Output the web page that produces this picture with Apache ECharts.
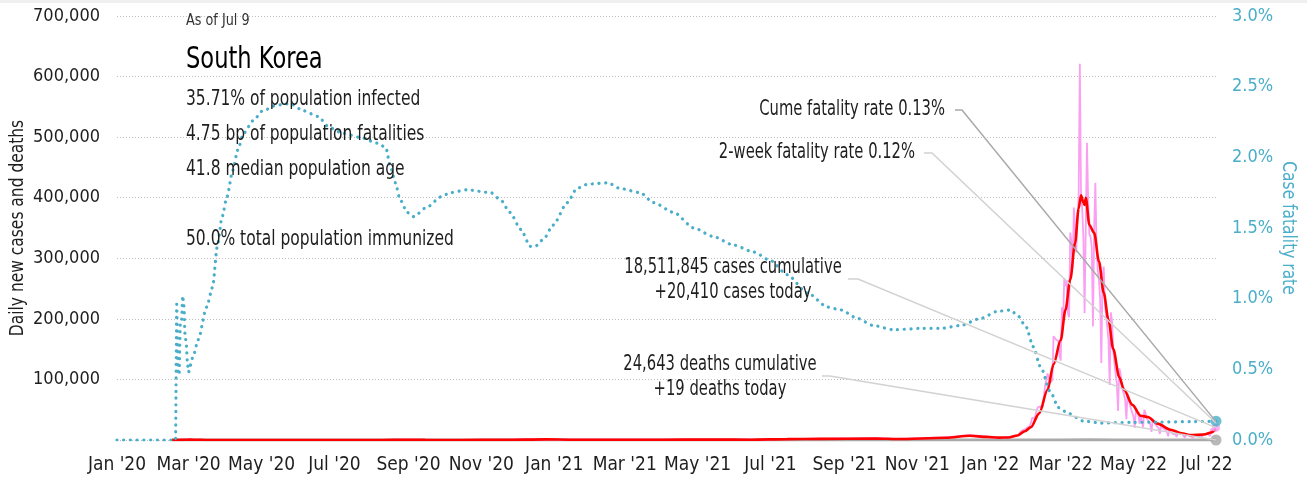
<!DOCTYPE html>
<html>
<head>
<meta charset="utf-8">
<script src="https://cdn.jsdelivr.net/npm/echarts@6/dist/echarts.min.js"></script>
<style>
  html, body { margin: 0; padding: 0; background: #fff; }
  #chart { width: 1307px; height: 480px; }
</style>
</head>
<body>
<div id="chart"></div>
<script>
// South Korea: daily cases, 7-day average, deaths and cumulative case fatality rate

const FONT = '"Liberation Sans Narrow", "DejaVu Sans Condensed", "Roboto", sans-serif';

// x-axis labels (every other month)
const tickMonths = ['2020-01-01', '2020-03-01', '2020-05-01', '2020-07-01', '2020-09-01', '2020-11-01',
  '2021-01-01', '2021-03-01', '2021-05-01', '2021-07-01', '2021-09-01', '2021-11-01',
  '2022-01-01', '2022-03-01', '2022-05-01', '2022-07-01'];
const monthNames = ['Jan', 'Feb', 'Mar', 'Apr', 'May', 'Jun', 'Jul', 'Aug', 'Sep', 'Oct', 'Nov', 'Dec'];

// cumulative case fatality rate, percent
const cfrDates = ['2020-01-01', '2020-02-19', '2020-02-20', '2020-02-21', '2020-02-22', '2020-02-23',
  '2020-02-24', '2020-02-25', '2020-02-26', '2020-02-27', '2020-02-28', '2020-02-29', '2020-03-01',
  '2020-03-02', '2020-03-05', '2020-03-09', '2020-03-16', '2020-03-21', '2020-03-25', '2020-03-29',
  '2020-04-02', '2020-04-07', '2020-04-11', '2020-04-16', '2020-04-24', '2020-05-02', '2020-05-14',
  '2020-05-25', '2020-06-05', '2020-06-17', '2020-06-27', '2020-07-08', '2020-07-23', '2020-08-06',
  '2020-08-13', '2020-08-17', '2020-08-21', '2020-08-25', '2020-08-31', '2020-09-05', '2020-09-17',
  '2020-09-28', '2020-10-06', '2020-10-20', '2020-11-09', '2020-11-17', '2020-11-25', '2020-12-04',
  '2020-12-12', '2020-12-16', '2020-12-23', '2020-12-31', '2021-01-12', '2021-01-20', '2021-01-29',
  '2021-02-15', '2021-02-25', '2021-03-14', '2021-03-25', '2021-04-11', '2021-04-28', '2021-05-14',
  '2021-05-31', '2021-06-17', '2021-07-01', '2021-07-15', '2021-08-01', '2021-08-18', '2021-08-29',
  '2021-09-12', '2021-09-25', '2021-10-12', '2021-11-04', '2021-11-21', '2021-12-07', '2021-12-24',
  '2022-01-07', '2022-01-18', '2022-01-24', '2022-01-31', '2022-02-06', '2022-02-12', '2022-02-21',
  '2022-02-27', '2022-03-07', '2022-03-20', '2022-04-04', '2022-04-29', '2022-05-24', '2022-06-18',
  '2022-07-09'];
const cfrValues = [0, 0, 0.96, 0.49, 0.46, 0.83,
  0.84, 1.02, 0.95, 0.74, 0.68, 0.54, 0.48,
  0.52, 0.60, 0.71, 0.94, 1.08, 1.37, 1.58,
  1.72, 1.91, 2.05, 2.17, 2.26, 2.33, 2.37,
  2.38, 2.33, 2.29, 2.21, 2.17, 2.14, 2.10,
  2.07, 1.93, 1.82, 1.70, 1.61, 1.58, 1.65,
  1.72, 1.75, 1.77, 1.75, 1.70, 1.61, 1.49,
  1.37, 1.37, 1.42, 1.52, 1.68, 1.78, 1.81,
  1.82, 1.78, 1.75, 1.68, 1.61, 1.50, 1.44,
  1.38, 1.33, 1.27, 1.17, 1.04, 0.94, 0.92,
  0.86, 0.81, 0.78, 0.79, 0.79, 0.81, 0.86,
  0.91, 0.92, 0.88, 0.80, 0.66, 0.52, 0.33,
  0.23, 0.19, 0.134, 0.12, 0.125, 0.127, 0.13,
  0.133];

// daily new cases before 2022 (sampled)
const earlyCaseDates = ['2020-02-16', '2020-02-22', '2020-02-29', '2020-03-05', '2020-03-12', '2020-03-25',
  '2020-04-15', '2020-05-10', '2020-06-10', '2020-07-10', '2020-08-15', '2020-08-27', '2020-09-15',
  '2020-10-15', '2020-11-20', '2020-12-25', '2021-01-15', '2021-02-16', '2021-03-15', '2021-04-20',
  '2021-05-15', '2021-06-15', '2021-07-15', '2021-08-12', '2021-09-25', '2021-10-15', '2021-11-24',
  '2021-12-15', '2021-12-29', '2022-01-01'];
const earlyCaseValues = [0, 229, 813, 438, 114, 100,
  27, 35, 45, 39, 166, 441, 113,
  110, 363, 1241, 513, 457, 382, 731,
  681, 545, 1600, 2223, 3273, 1617, 4115,
  7850, 5407, 4415];

// daily new cases from 2022-01-02 through 2022-07-09
const dailyStart = '2022-01-02';
const dailyCases = [
  3833, 3126, 4443, 4126, 4444, 3716, 3510, 3374, 3005, 3094, 4388, 4167, 4542, 4422, 4194, 3857,
  4071, 5805, 6603, 6767, 7008, 7629, 7513, 8570, 13012, 14518, 16096, 17542, 17528, 18342, 20270,
  18343, 22907, 27443, 36362, 38691, 35286, 36719, 49567, 54122, 53926, 54941, 56431, 54619, 57177,
  90443, 93135, 109831, 102211, 104829, 95362, 99573, 171452, 170016, 165890, 166209, 163566, 139626, 131000,
  219241, 198803, 266853, 254327, 264000, 210716, 202721, 342446, 327549, 282987, 383665, 350190, 309790,
  362338, 400741, 621328, 407017, 381454, 334708, 209169, 353980, 490881, 395598, 339514, 335580, 318130,
  187213, 347554, 424641, 320743, 280273,
  264171, 234301, 127190, 266135, 286294, 224820, 205333, 185566, 164481, 90928, 210755, 195419, 148443,
  125846, 107916, 93001, 47743, 118504, 111319, 90867, 81058, 75449, 64725, 34370, 76787, 68549, 57464,
  50568, 48102, 37768,
  20087, 51131, 49064, 42296, 26714, 40064, 38000, 20601, 49933, 43925, 35906, 32451, 29581, 25434, 13296,
  35117, 29935, 26711, 23956, 25125, 19298, 9975, 23926, 23956, 18800, 17188, 16584, 12542, 6141, 18816, 13358,
  12046, 9898, 11208, 9830, 5022, 12155, 13358, 12040, 10000, 9300, 7382, 3828, 9428, 9435, 7994, 7000,
  6000, 5000, 3500, 9000, 9000, 7500, 7200, 6200, 6200, 3400, 9900, 10400, 9600, 10700,
  10700, 10000, 6200, 18100, 19300, 18500, 19300, 20410];

// 7-day average of new cases
const avgDates = ['2020-02-16', '2020-02-24', '2020-03-02', '2020-03-08', '2020-03-15', '2020-04-01',
  '2020-04-20', '2020-05-15', '2020-06-15', '2020-07-15', '2020-08-10', '2020-08-28', '2020-09-15',
  '2020-10-15', '2020-11-20', '2020-12-25', '2021-01-15', '2021-02-15', '2021-03-15', '2021-04-20',
  '2021-05-15', '2021-06-15', '2021-07-15', '2021-08-12', '2021-09-28', '2021-10-15', '2021-11-25',
  '2021-12-15', '2021-12-29', '2022-01-08', '2022-01-16', '2022-01-24', '2022-01-30', '2022-02-04',
  '2022-02-11', '2022-02-18', '2022-02-23', '2022-03-01', '2022-03-05', '2022-03-09', '2022-03-13',
  '2022-03-16', '2022-03-18', '2022-03-20', '2022-03-21', '2022-03-22', '2022-03-25', '2022-03-29',
  '2022-04-02', '2022-04-06', '2022-04-10', '2022-04-14', '2022-04-19', '2022-04-23', '2022-04-30',
  '2022-05-07', '2022-05-13', '2022-05-21', '2022-06-01', '2022-06-10', '2022-06-18', '2022-06-29',
  '2022-07-05', '2022-07-09'];
const avgValues = [0, 180, 560, 480, 110, 95,
  15, 20, 45, 40, 30, 330, 140,
  75, 280, 1030, 520, 420, 430, 640,
  600, 500, 1400, 1800, 2400, 1600, 3600,
  6900, 5200, 3900, 4200, 7500, 14500, 21000,
  44000, 83000, 125000, 165000, 215000, 265000, 325000,
  382000, 404000, 392000, 388000, 400000, 355000, 342000,
  295000, 243000, 198000, 150000, 104000, 83000, 58000,
  40000, 38000, 27000, 17000, 11000, 8000, 9000,
  12500, 18500];

// deaths
const deathDates = ['2020-02-16', '2020-03-15', '2020-05-01', '2020-09-01', '2020-12-25', '2021-03-01',
  '2021-08-01', '2021-12-20', '2022-01-15', '2022-03-01', '2022-03-25', '2022-04-15', '2022-05-15',
  '2022-06-15', '2022-07-09'];
const deathValues = [0, 6, 1, 3, 20, 8, 5, 70, 25, 100, 340, 200, 40, 10, 19];

// annotation values
const cumeRate = 0.13;
const twoWeekRate = 0.12;
const casesCumulative = '18,511,845';
const deathsCumulative = '24,643';

// dates become local-time timestamps on a numeric x axis
const ts = (s) => { const p = s.split('-').map(Number); return new Date(p[0], p[1] - 1, p[2]).getTime(); };
const pairs = (dates, values) => dates.map((d, i) => [ts(d), values[i]]);
const startParts = dailyStart.split('-').map(Number);
const dailySeries = pairs(earlyCaseDates, earlyCaseValues).concat(
  dailyCases.map((v, i) => [new Date(startParts[0], startParts[1] - 1, startParts[2] + i).getTime(), v]));
const lastDaily = dailySeries[dailySeries.length - 1];
const lastDate = ts(cfrDates[cfrDates.length - 1]);
const lastCfr = [lastDate, cfrValues[cfrValues.length - 1]];
const lastDeath = [ts(deathDates[deathDates.length - 1]), deathValues[deathValues.length - 1]];

const BLUE = '#4aaec9';
const TXT = '#1e1e1e';

const chart = echarts.init(document.getElementById('chart'), null, { renderer: 'canvas' });

chart.setOption({
  animation: false,
  backgroundColor: '#ffffff',
  textStyle: { fontFamily: FONT },
  grid: { left: 117, right: 91, top: 16, bottom: 40, containLabel: false, outerBoundsMode: 'none' },
  xAxis: {
    type: 'value',
    min: ts('2020-01-01'),
    max: lastDate,
    axisLine: { show: false },
    axisTick: { show: false },
    splitLine: { show: false },
    axisLabel: {
      customValues: tickMonths.map(ts),
      color: TXT,
      fontSize: 19,
      fontFamily: FONT,
      margin: 16,
      formatter: (v) => {
        const d = new Date(v);
        return monthNames[d.getMonth()] + " '" + String(d.getFullYear()).slice(2);
      }
    }
  },
  yAxis: [
    {
      type: 'value',
      min: 0, max: 700000, interval: 100000,
      axisLine: { show: false },
      axisTick: { show: false },
      axisLabel: {
        color: TXT, fontSize: 18, fontFamily: FONT, margin: 17,
        formatter: (v) => v === 0 ? '' : v.toLocaleString('en-US')
      },
      splitLine: { show: true, lineStyle: { color: '#bdbdbd', type: [1, 2], width: 1 } }
    },
    {
      type: 'value',
      min: 0, max: 3, interval: 0.5,
      position: 'right',
      axisLine: { show: false },
      axisTick: { show: false },
      axisLabel: {
        color: BLUE, fontSize: 18, fontFamily: FONT, margin: 16,
        formatter: (v) => v.toFixed(1) + '%'
      },
      splitLine: { show: false }
    }
  ],
  series: [
    {
      name: 'Deaths', type: 'line', yAxisIndex: 0, z: 2,
      data: pairs(deathDates, deathValues),
      showSymbol: false, silent: true,
      lineStyle: { color: '#aaaaaa', width: 3 }
    },
    {
      name: 'Daily cases', type: 'line', yAxisIndex: 0, z: 3,
      data: dailySeries,
      showSymbol: false, silent: true,
      lineStyle: { color: '#fb9ff3', width: 1.8 }
    },
    {
      name: '7-day average', type: 'line', yAxisIndex: 0, z: 4,
      data: pairs(avgDates, avgValues),
      showSymbol: false, silent: true,
      smooth: 0.3, smoothMonotone: 'x',
      lineStyle: { color: '#ff0000', width: 2.6 }
    },
    {
      name: 'Case fatality rate', type: 'line', yAxisIndex: 1, z: 5,
      data: pairs(cfrDates, cfrValues),
      showSymbol: false, silent: true,
      smooth: 0.25, smoothMonotone: 'x',
      lineStyle: { color: BLUE, width: 3.2, type: [0.1, 6.6], cap: 'round' }
    },
    {
      name: 'Deaths end', type: 'scatter', yAxisIndex: 0, z: 6,
      data: [lastDeath], symbolSize: 11, silent: true,
      itemStyle: { color: '#a6a6a6' }
    },
    {
      name: 'Cases end', type: 'scatter', yAxisIndex: 0, z: 6,
      data: [lastDaily], symbolSize: 8, silent: true,
      itemStyle: { color: '#fb9ff3' }
    },
    {
      name: 'Rate end', type: 'scatter', yAxisIndex: 1, z: 7,
      data: [lastCfr], symbolSize: 11, silent: true,
      itemStyle: { color: BLUE }
    }
  ]
});

// leader lines from each annotation to the end of its series
const toPx = (yAxisIndex, point) => chart.convertToPixel({ xAxisIndex: 0, yAxisIndex: yAxisIndex }, point);
const endCume = toPx(1, [lastDate, cumeRate]);
const endTwoWeek = toPx(1, [lastDate, twoWeekRate]);
const endCases = toPx(0, lastDaily);
const endDeaths = toPx(0, lastDeath);

const leader = (pts, color) => ({
  type: 'polyline', silent: true, z: 50,
  shape: { points: pts },
  style: { stroke: color, lineWidth: 1.5, fill: null }
});
// condensed text: the available condensed face is wider than the narrow face wanted here
const label = (text, x, y, size, align, color, sx, rot) => ({
  type: 'text', silent: true, z: 60, x: x, y: y,
  scaleX: sx == null ? 0.8 : sx, rotation: rot || 0,
  style: { text: text, font: size + 'px ' + FONT, fill: color || TXT, align: align || 'left', verticalAlign: 'middle' }
});

chart.setOption({
  graphic: [
    { type: 'rect', silent: true, z: 1, shape: { x: 0, y: 0, width: 1307, height: 3 }, style: { fill: '#efefef' } },
    leader([[955, 110], [962, 110], endCume], '#a9a9a9'),
    leader([[924, 153], [932, 153], endTwoWeek], '#d2d2d2'),
    leader([[848, 279], [858, 279], endCases], '#d2d2d2'),
    leader([[822, 376], [830, 376], endDeaths], '#d2d2d2'),
    label('Daily new cases and deaths', 18, 228, 20, 'center', TXT, 0.86, Math.PI / 2),
    label('Case fatality rate', 1288, 228, 20, 'center', BLUE, 0.86, -Math.PI / 2),
    label('As of Jul 9', 186, 21, 15, 'left', '#333333', 0.95),
    label('South Korea', 186, 60, 31, 'left', '#000000', 0.81),
    label('35.71% of population infected', 186, 100, 21, 'left', TXT, 0.82),
    label('4.75 bp of population fatalities', 186, 135, 21, 'left', TXT, 0.82),
    label('41.8 median population age', 186, 170, 21, 'left', TXT, 0.82),
    label('50.0% total population immunized', 186, 240, 21, 'left', TXT, 0.82),
    label('Cume fatality rate ' + cumeRate.toFixed(2) + '%', 945, 110, 20.5, 'right'),
    label('2-week fatality rate ' + twoWeekRate.toFixed(2) + '%', 915, 153, 20.5, 'right'),
    label(casesCumulative + ' cases cumulative', 733, 268, 20.5, 'center'),
    label('+' + lastDaily[1].toLocaleString('en-US') + ' cases today', 733, 293, 20.5, 'center'),
    label(deathsCumulative + ' deaths cumulative', 720, 365, 20.5, 'center'),
    label('+' + lastDeath[1] + ' deaths today', 720, 390, 20.5, 'center')
  ]
});
</script>
</body>
</html>
